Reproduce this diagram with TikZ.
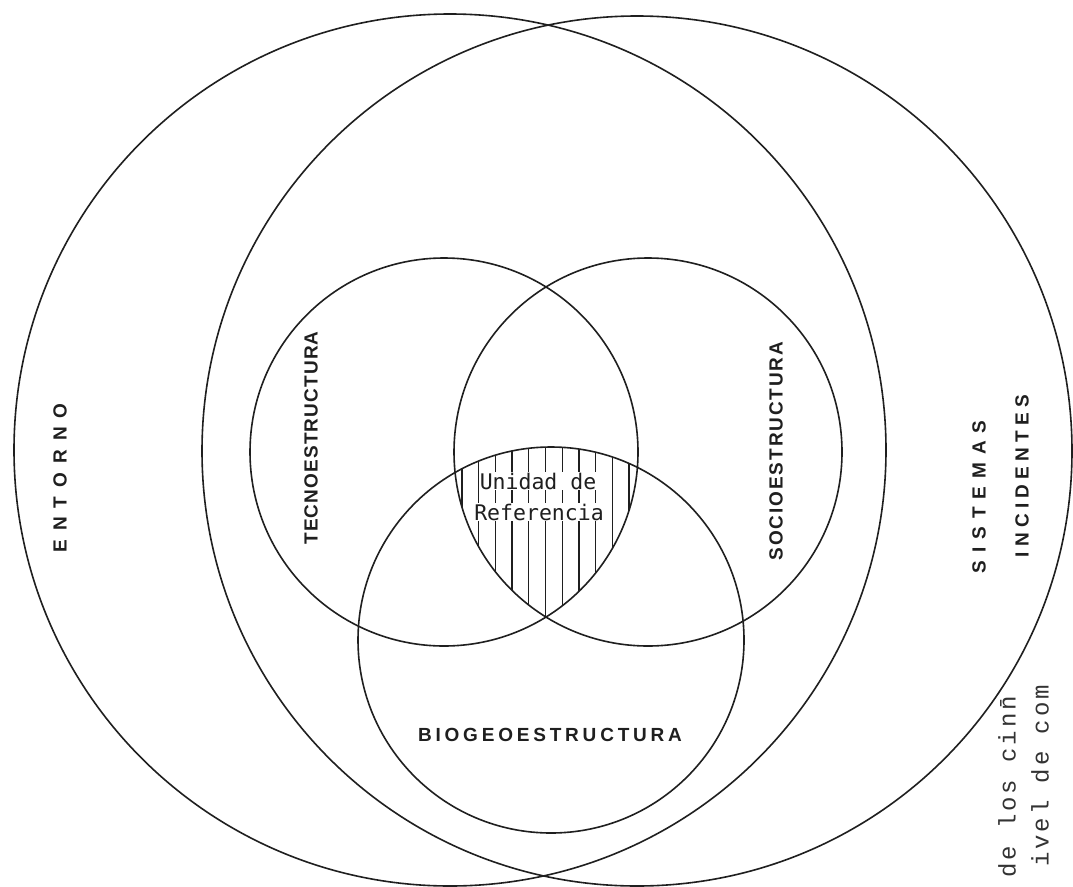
\documentclass[tikz,border=0pt]{standalone}
\usepackage{fontspec}
\setmainfont{Liberation Sans}
\newfontfamily\typewr{Liberation Mono}
\newfontfamily\unifont{DejaVu Sans Mono}
\tikzset{
  ring/.style={circle, draw=black!88, line width=1.6pt, inner sep=0pt},
  lab/.style={text=black!88, inner sep=0pt},
  unidad/.style={font=\unifont\fontsize{21.5}{21.5}\selectfont, text=black!88, fill=white, inner sep=1pt},
  hatch/.style={draw=black!88, line width=1.3pt},
  typed/.style={text=black!80, inner sep=0pt, rotate=90}
}
\begin{document}
\begin{tikzpicture}[x=1pt,y=-1pt]
\useasboundingbox[fill=white] (0,0) rectangle (1073,886);
% large circles
\node[ring, minimum size=872pt] (entorno) at (450,450) {};
\node[ring, minimum size=870pt] (sistemas) at (637,451) {};
% medium circles
\node[ring, minimum size=388pt] (tecno) at (444,452) {};
\node[ring, minimum size=388pt] (socio) at (648,452) {};
\node[ring, minimum size=386pt] (bio) at (551,640) {};
% hatching of the common region
\begin{scope}
  \clip (444,452) circle (194);
  \clip (648,452) circle (194);
  \clip (551,640) circle (193);
  \foreach \k in {-6,...,6} {
    \draw[hatch] ({545.5+16.7*\k},430) -- ({545.5+16.7*\k},630);
  }
\end{scope}
% labels
\node[lab, rotate=90, font=\bfseries\fontsize{19}{19}\selectfont\addfontfeature{LetterSpace=48}] (tEntorno) at (60,478) {ENTORNO};
\node[lab, rotate=90, font=\bfseries\fontsize{19}{19}\selectfont\addfontfeature{LetterSpace=6}] (tTecno) at (311,438) {TECNOESTRUCTURA};
\node[lab, rotate=90, font=\bfseries\fontsize{19}{19}\selectfont\addfontfeature{LetterSpace=10}] (tSocio) at (776,451) {SOCIOESTRUCTURA};
\node[lab, font=\bfseries\fontsize{19}{19}\selectfont\addfontfeature{LetterSpace=20}] (tBio) at (550,735) {BIOGEOESTRUCTURA};
\node[lab, rotate=90, font=\bfseries\fontsize{19}{19}\selectfont\addfontfeature{LetterSpace=42}] (tSist) at (979,497) {SISTEMAS};
\node[lab, rotate=90, font=\bfseries\fontsize{19}{19}\selectfont\addfontfeature{LetterSpace=28}] (tInc) at (1022,476) {INCIDENTES};
\node[unidad] (tUni) at (538,481) {Unidad de};
\node[unidad] (tRef) at (539,512) {Referencia};
% typed text of the page
\node[typed, font=\typewr\fontsize{24}{24}\selectfont\addfontfeature{LetterSpace=12}] (typ1) at (1007,787) {de los cin\=n};
\node[typed, font=\typewr\fontsize{24}{24}\selectfont\addfontfeature{LetterSpace=12}] (typ2) at (1040,776) {ivel de com};
\end{tikzpicture}
\end{document}
